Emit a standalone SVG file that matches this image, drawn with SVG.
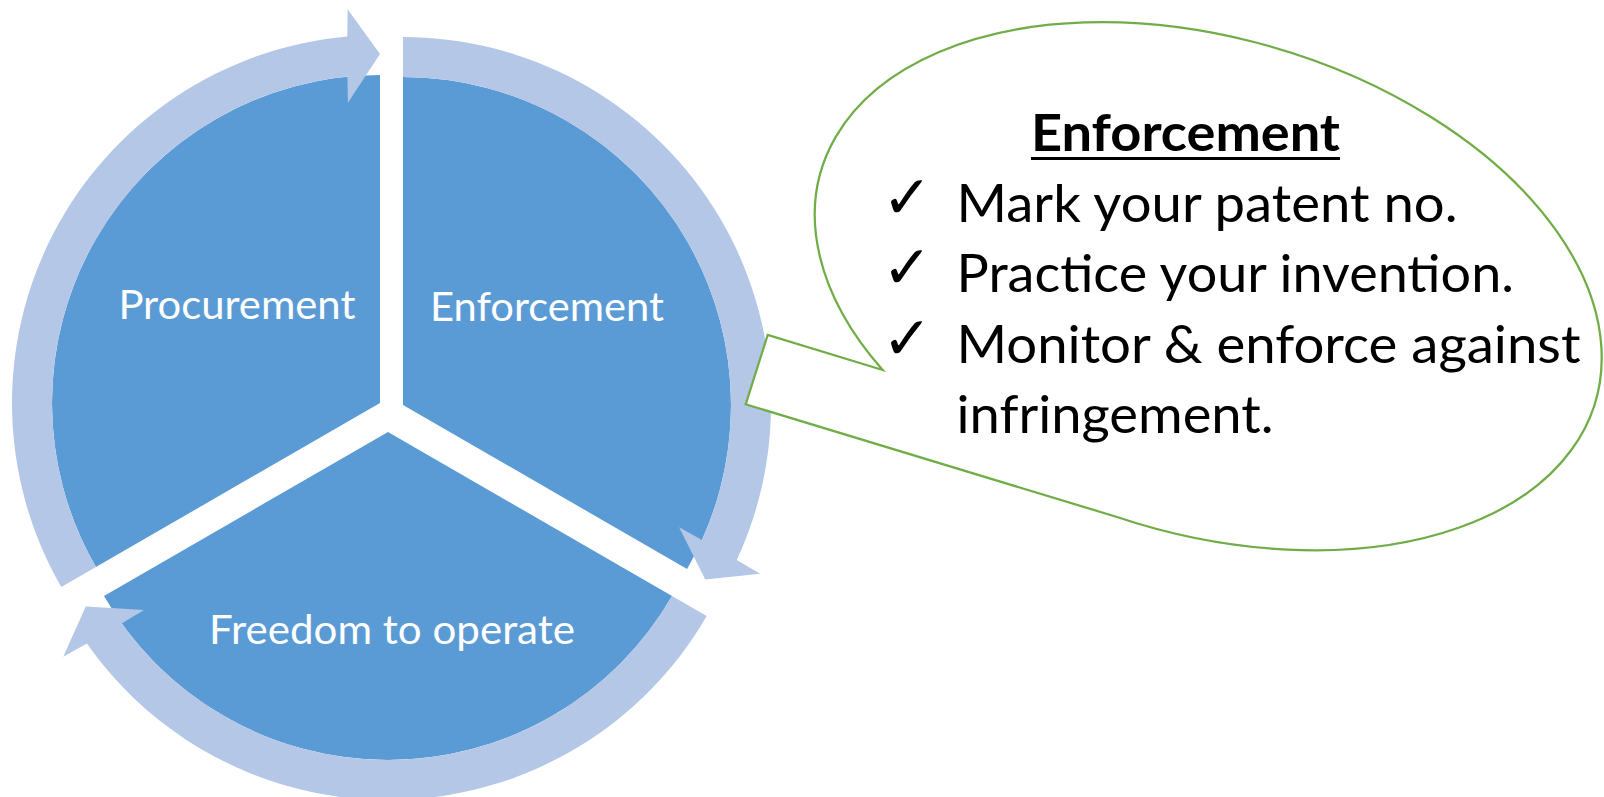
<svg xmlns="http://www.w3.org/2000/svg" width="1604" height="797" viewBox="0 0 1604 797">
  <style>
    .seg { fill: #5B9BD5; }
    .ring { fill: #B4C7E7; }
    .lbl { font-family: Lato, "Open Sans", sans-serif; font-size: 40px; fill: #ffffff; }
    .bubble { fill: #ffffff; stroke: #70AD47; stroke-width: 2.25; stroke-linejoin: miter; }
    .txt { font-family: Lato, "Open Sans", sans-serif; font-size: 52px; fill: #000000; }
    .head { font-weight: 700; }
    .tick { font-family: "DejaVu Sans", sans-serif; font-size: 60px; font-weight: 700; fill: #000000; }
  </style>
  <rect width="1604" height="797" fill="#ffffff"/>

  <!-- three offset pie segments -->
  <g id="procurement">
    <path class="seg" d="M380,403 L95.94,567 A328,328 0 0 1 380,75 Z"/>
    <text class="lbl" x="118.4" y="319" textLength="237" lengthAdjust="spacingAndGlyphs">Procurement</text>
  </g>
  <g id="enforcement">
    <path class="seg" d="M403,405 L403,77 A328,328 0 0 1 687.06,569 Z"/>
    <text class="lbl" x="430" y="321.4" textLength="234" lengthAdjust="spacingAndGlyphs">Enforcement</text>
  </g>
  <g id="freedom-to-operate">
    <path class="seg" d="M388,432 L672.06,596 A328,328 0 0 1 103.94,596 Z"/>
    <text class="lbl" x="209" y="644" textLength="366" lengthAdjust="spacingAndGlyphs">Freedom to operate</text>
  </g>

  <!-- curved arrows running clockwise around the segments -->
  <g id="connectors">
    <path class="ring" d="M61.30,587 A368,368 0 0 1 347.29,36.46 L347.63,9.33 L380,54 L347.91,102.71 L347.42,76.62 A328,328 0 0 0 95.94,567 Z"/>
    <path class="ring" d="M403,37 A368,368 0 0 1 736.79,559.94 L760.11,573.81 L705.24,579.5 L679.10,527.35 L701.94,539.98 A328,328 0 0 0 403,77 Z"/>
    <path class="ring" d="M706.70,616 A368,368 0 0 1 86.92,643.60 L63.25,656.87 L85.76,606.5 L143.99,609.94 L121.64,623.40 A328,328 0 0 0 672.06,596 Z"/>
  </g>

  <!-- speech bubble with the enforcement checklist -->
  <g id="enforcement-callout">
    <path class="bubble" d="M882.7,370 L767.7,335 L745.7,404.3 L1117,517 A404,247.6 16.7 1 0 882.7,370 Z"/>
    <text class="txt head" x="1031" y="151.4" textLength="309" lengthAdjust="spacingAndGlyphs">Enforcement</text>
    <line x1="1031" y1="158.6" x2="1340" y2="158.6" stroke="#000000" stroke-width="3"/>
    <text class="tick" x="882" y="218">✓</text>
    <text class="tick" x="882" y="288">✓</text>
    <text class="tick" x="882" y="359">✓</text>
    <text class="txt" x="956.5" y="222" textLength="501" lengthAdjust="spacingAndGlyphs">Mark your patent no.</text>
    <text class="txt" x="956.5" y="291.6" textLength="557.5" lengthAdjust="spacingAndGlyphs">Practice your invention.</text>
    <text class="txt" x="956.5" y="363.2" textLength="624" lengthAdjust="spacingAndGlyphs">Monitor &amp; enforce against</text>
    <text class="txt" x="956.5" y="432.7" textLength="317" lengthAdjust="spacingAndGlyphs">infringement.</text>
  </g>
</svg>
